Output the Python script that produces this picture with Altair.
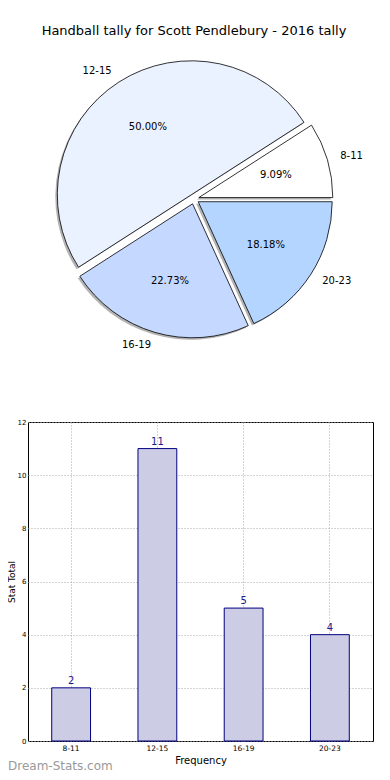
import altair as alt
import pandas as pd

TITLE = "Handball tally for Scott Pendlebury - 2016 tally"
labels = ["8-11", "12-15", "16-19", "20-23"]
values = [2, 11, 5, 4]
pie_colors = ["#ffffff", "#eaf1ff", "#c5d8ff", "#b3d5ff"]
y_ticks = [0, 2, 4, 6, 8, 10, 12]
x_title = "Frequency"
y_title = "Stat Total"
watermark = "Dream-Stats.com"

FONT = "DejaVu Sans"
R = 134
CX, CY = 166, 190
EXP = 5

df = pd.DataFrame({
    "label": labels,
    "value": values,
    "order": list(range(len(labels)))[::-1],
})

base = (
    alt.Chart(df)
    .transform_joinaggregate(total="sum(value)")
    .transform_window(cum="sum(value)", sort=[alt.SortField("order")], frame=[None, 0])
    .transform_calculate(
        t0="PI/2 + 2*PI*(datum.cum - datum.value)/datum.total",
        t1="PI/2 + 2*PI*datum.cum/datum.total",
    )
    .transform_calculate(tm="(datum.t0 + datum.t1)/2")
    .transform_calculate(
        px=f"{CX} + {EXP}*sin(datum.tm)",
        py=f"{CY} - {EXP}*cos(datum.tm)",
        pct="format(100*datum.value/datum.total, '.2f') + '%'",
        side="sin(datum.tm) > 0 ? 'R' : 'L'",
    )
    .transform_calculate(sx="datum.px - 2", sy="datum.py + 2")
)

xenc = alt.X("px:Q", scale=None, axis=None)
yenc = alt.Y("py:Q", scale=None, axis=None)

shadow = base.mark_arc(radius=R, fill="#808080", opacity=0.6).encode(
    x=alt.X("sx:Q", scale=None, axis=None),
    y=alt.Y("sy:Q", scale=None, axis=None),
    theta=alt.Theta("t0:Q", scale=None),
    theta2="t1:Q",
)
slices = base.mark_arc(radius=R, stroke="black", strokeWidth=0.8).encode(
    x=xenc, y=yenc,
    theta=alt.Theta("t0:Q", scale=None),
    theta2="t1:Q",
    color=alt.Color("label:N", scale=alt.Scale(domain=labels, range=pie_colors), legend=None),
)
pcts = base.mark_text(radius=0.6 * R, fontSize=10, font=FONT, color="black").encode(
    x=xenc, y=yenc, theta=alt.Theta("tm:Q", scale=None), text="pct:N"
)
lab_r = base.transform_filter("datum.side == 'R'").mark_text(
    radius=1.1 * R, align="left", baseline="middle", fontSize=10, font=FONT, color="black"
).encode(x=xenc, y=yenc, theta=alt.Theta("tm:Q", scale=None), text="label:N")
lab_l = base.transform_filter("datum.side == 'L'").mark_text(
    radius=1.1 * R, align="right", baseline="middle", fontSize=10, font=FONT, color="black"
).encode(x=xenc, y=yenc, theta=alt.Theta("tm:Q", scale=None), text="label:N")
title = alt.Chart(pd.DataFrame({"t": [TITLE]})).mark_text(
    fontSize=13, font=FONT, color="black", baseline="middle"
).encode(x=alt.value(166), y=alt.value(22), text="t:N")

pie = alt.layer(shadow, slices, pcts, lab_r, lab_l, title).properties(width=345, height=413)

grid_kw = dict(grid=True, gridDash=[1, 2], gridColor="#a8a8a8", gridOpacity=1, domain=False)
bar_base = alt.Chart(df).encode(
    x=alt.X(
        "label:N", sort=labels,
        scale=alt.Scale(domain=labels, paddingInner=0.55, paddingOuter=0.275),
        axis=alt.Axis(title=x_title, labelAngle=0, bandPosition=0.5, tickSize=0, labelPadding=3,
                      labelFontSize=7.5, titleFontSize=10, titleFontWeight="normal", titlePadding=4,
                      **grid_kw),
    ),
    y=alt.Y(
        "value:Q", scale=alt.Scale(domain=[0, 12], nice=False),
        axis=alt.Axis(values=y_ticks, title=y_title, tickSize=0, labelPadding=2, labelFontSize=7,
                      minExtent=11, maxExtent=11, titlePadding=1, titleFontSize=9,
                      titleFontWeight="normal", **grid_kw),
    ),
)
bars = bar_base.mark_bar(fill="#ccccE5", stroke="#000080", strokeWidth=1)
btext = bar_base.mark_text(dy=-4, baseline="alphabetic", fontSize=10, font=FONT, color="#1a1a8c").encode(
    text="value:Q"
)
wm = alt.Chart(pd.DataFrame({"w": [watermark]})).mark_text(
    align="left", baseline="middle", fontSize=12, font=FONT, color="#999999"
).encode(x=alt.value(-20), y=alt.value(344), text="w:N")

bar = alt.layer(bars, btext, wm).properties(
    width=345, height=319, view=alt.ViewBackground(stroke="black", strokeWidth=1)
)

chart = (
    alt.vconcat(pie, bar, spacing=0, bounds="flush")
    .properties(padding={"left": -2, "top": 0, "right": 0, "bottom": 0})
    .configure_view(stroke="transparent")
    .configure_axis(labelFont=FONT, titleFont=FONT, labelColor="black", titleColor="black")
)

chart.save("out.html", embed_options={"renderer": "svg", "actions": False})
